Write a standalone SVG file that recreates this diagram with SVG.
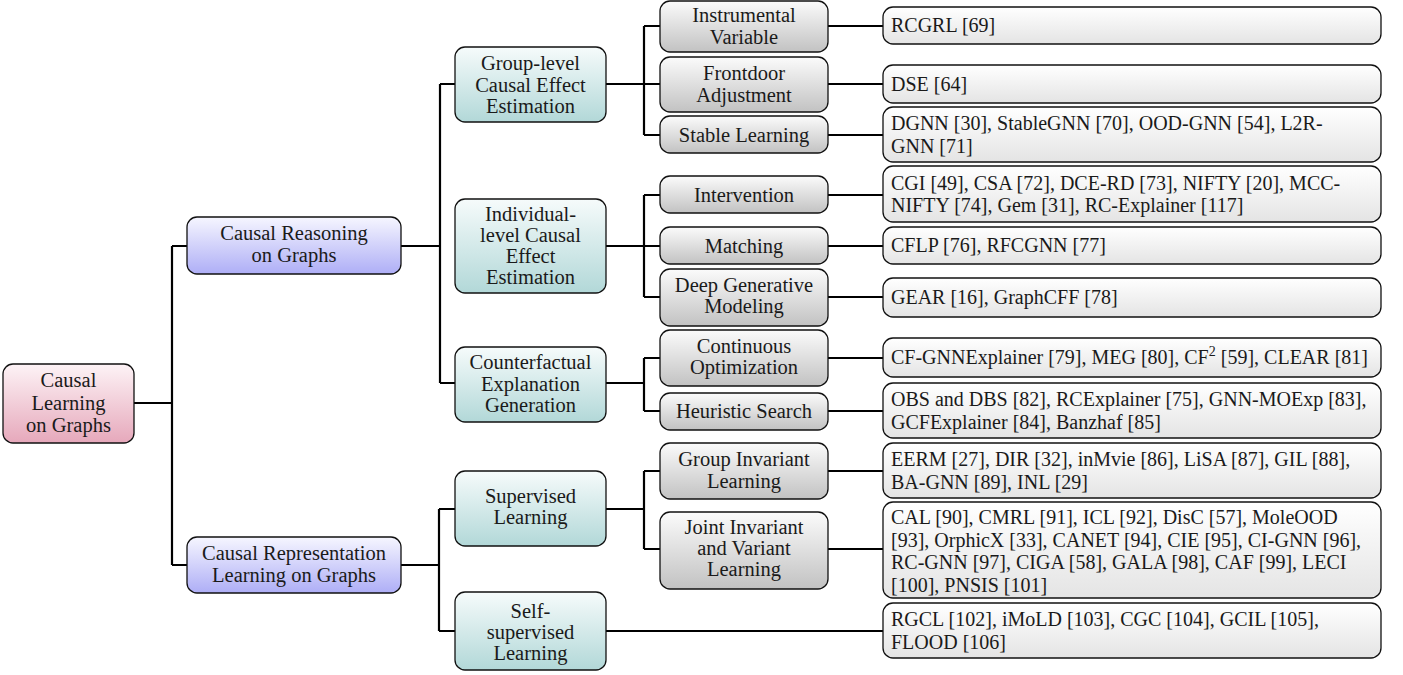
<svg xmlns="http://www.w3.org/2000/svg" width="1403" height="675" viewBox="0 0 1403 675">
<style>
  rect { stroke: #111; stroke-width: 1.3; }
  .root rect { fill: url(#gPink); }
  .l1 rect { fill: url(#gBlue); }
  .l2 rect { fill: url(#gTeal); }
  .l3 rect { fill: url(#gGray); }
  .leaf rect { fill: url(#gLeaf); }
  text { font-family: "Liberation Serif", "Times New Roman", serif; font-size: 20.5px; fill: #1a1a1a; }
  .root text, .l1 text, .l2 text, .l3 text { text-anchor: middle; }
  .leaf text { font-size: 20px; }
  #connectors path { fill: none; stroke: #000; stroke-width: 2.2; }
</style>
<defs>
  <linearGradient id="gPink" x1="0" y1="0" x2="0" y2="1"><stop offset="0" stop-color="#fdf3f6"/><stop offset="1" stop-color="#e6a8bb"/></linearGradient>
  <linearGradient id="gBlue" x1="0" y1="0" x2="0" y2="1"><stop offset="0" stop-color="#f6f6ff"/><stop offset="1" stop-color="#aeaef6"/></linearGradient>
  <linearGradient id="gTeal" x1="0" y1="0" x2="0" y2="1"><stop offset="0" stop-color="#f6fbfb"/><stop offset="1" stop-color="#b2d8d8"/></linearGradient>
  <linearGradient id="gGray" x1="0" y1="0" x2="0" y2="1"><stop offset="0" stop-color="#fbfbfb"/><stop offset="1" stop-color="#c2c2c2"/></linearGradient>
  <linearGradient id="gLeaf" x1="0" y1="0" x2="0" y2="1"><stop offset="0" stop-color="#ffffff"/><stop offset="1" stop-color="#e4e4e4"/></linearGradient>
</defs>

<g id="connectors">
  <!-- root to level 1 -->
  <path d="M134 403 H172 M172 246 V565 M172 246 H187 M172 565 H187"/>
  <!-- Causal Reasoning to level 2 -->
  <path d="M401 246 H440 M440 84 V383 M440 84 H455 M440 383 H455"/>
  <!-- Causal Representation to level 2 -->
  <path d="M401 565 H439 M439 509 V631 M439 509 H455 M439 631 H455"/>
  <!-- Group-level -->
  <path d="M606 84 H644 M644 26 V135 M644 26 H660 M644 84 H660 M644 135 H660"/>
  <!-- Individual-level -->
  <path d="M606 246 H644 M644 195 V297 M644 195 H660 M644 297 H660 M644 246 H660"/>
  <!-- Counterfactual -->
  <path d="M606 383 H644 M644 358 V411 M644 358 H660 M644 411 H660"/>
  <!-- Supervised -->
  <path d="M606 509 H644 M644 471 V549 M644 471 H660 M644 549 H660"/>
  <!-- Self-supervised to leaf -->
  <path d="M606 631 H883"/>
  <!-- level 3 to leaves -->
  <path d="M828 26 H883 M828 84 H883 M828 135 H883 M828 195 H883 M828 246 H883 M828 297 H883 M828 358 H883 M828 411 H883 M828 471 H883 M828 549 H883"/>
</g>

<g id="root" class="root">
  <rect x="3" y="364" width="131" height="79" rx="10"/>
  <text x="68.5" y="387">Causal</text>
  <text x="68.5" y="409.5">Learning</text>
  <text x="68.5" y="432">on Graphs</text>
</g>

<g id="causal-reasoning" class="l1">
  <rect x="187" y="217" width="214" height="57" rx="10"/>
  <text x="294" y="240">Causal Reasoning</text>
  <text x="294" y="262">on Graphs</text>
</g>
<g id="causal-representation" class="l1">
  <rect x="187" y="537" width="214" height="56" rx="10"/>
  <text x="294" y="560">Causal Representation</text>
  <text x="294" y="582">Learning on Graphs</text>
</g>

<g id="group-level" class="l2">
  <rect x="455" y="47" width="151" height="75" rx="10"/>
  <text x="530.5" y="70">Group-level</text>
  <text x="530.5" y="91.5">Causal Effect</text>
  <text x="530.5" y="113">Estimation</text>
</g>
<g id="individual-level" class="l2">
  <rect x="455" y="199" width="151" height="94" rx="10"/>
  <text x="530.5" y="221">Individual-</text>
  <text x="530.5" y="242">level Causal</text>
  <text x="530.5" y="263">Effect</text>
  <text x="530.5" y="284">Estimation</text>
</g>
<g id="counterfactual" class="l2">
  <rect x="455" y="347" width="151" height="75" rx="10"/>
  <text x="530.5" y="369">Counterfactual</text>
  <text x="530.5" y="390.5">Explanation</text>
  <text x="530.5" y="412">Generation</text>
</g>
<g id="supervised" class="l2">
  <rect x="455" y="471" width="151" height="75" rx="10"/>
  <text x="530.5" y="503">Supervised</text>
  <text x="530.5" y="524">Learning</text>
</g>
<g id="self-supervised" class="l2">
  <rect x="455" y="592" width="151" height="78" rx="10"/>
  <text x="530.5" y="618">Self-</text>
  <text x="530.5" y="639">supervised</text>
  <text x="530.5" y="660">Learning</text>
</g>

<g id="instrumental" class="l3">
  <rect x="660" y="1" width="168" height="51" rx="10"/>
  <text x="744" y="22">Instrumental</text>
  <text x="744" y="44">Variable</text>
</g>
<g id="frontdoor" class="l3">
  <rect x="660" y="57" width="168" height="55" rx="10"/>
  <text x="744" y="80">Frontdoor</text>
  <text x="744" y="102">Adjustment</text>
</g>
<g id="stable" class="l3">
  <rect x="660" y="116" width="168" height="37" rx="10"/>
  <text x="744" y="141.5">Stable Learning</text>
</g>
<g id="intervention" class="l3">
  <rect x="660" y="176" width="168" height="37" rx="10"/>
  <text x="744" y="201.5">Intervention</text>
</g>
<g id="matching" class="l3">
  <rect x="660" y="227" width="168" height="37" rx="10"/>
  <text x="744" y="252.5">Matching</text>
</g>
<g id="deep-generative" class="l3">
  <rect x="660" y="269" width="168" height="57" rx="10"/>
  <text x="744" y="292">Deep Generative</text>
  <text x="744" y="313">Modeling</text>
</g>
<g id="continuous" class="l3">
  <rect x="660" y="330" width="168" height="56" rx="10"/>
  <text x="744" y="353">Continuous</text>
  <text x="744" y="374">Optimization</text>
</g>
<g id="heuristic" class="l3">
  <rect x="660" y="393" width="168" height="37" rx="10"/>
  <text x="744" y="418">Heuristic Search</text>
</g>
<g id="group-invariant" class="l3">
  <rect x="660" y="443" width="168" height="56" rx="10"/>
  <text x="744" y="466">Group Invariant</text>
  <text x="744" y="488">Learning</text>
</g>
<g id="joint-invariant" class="l3">
  <rect x="660" y="512" width="168" height="77" rx="10"/>
  <text x="744" y="534">Joint Invariant</text>
  <text x="744" y="555">and Variant</text>
  <text x="744" y="576">Learning</text>
</g>

<g id="leaf-rcgrl" class="leaf">
  <rect x="883" y="7" width="498" height="37" rx="10"/>
  <text x="891" y="32">RCGRL [69]</text>
</g>
<g id="leaf-dse" class="leaf">
  <rect x="883" y="65" width="498" height="38" rx="10"/>
  <text x="891" y="90.5">DSE [64]</text>
</g>
<g id="leaf-dgnn" class="leaf">
  <rect x="883" y="107" width="498" height="55" rx="10"/>
  <text x="891" y="130">DGNN [30], StableGNN [70], OOD-GNN [54], L2R-</text>
  <text x="891" y="152.5">GNN [71]</text>
</g>
<g id="leaf-cgi" class="leaf">
  <rect x="883" y="166" width="498" height="56" rx="10"/>
  <text x="891" y="189.5">CGI [49], CSA [72], DCE-RD [73], NIFTY [20], MCC-</text>
  <text x="891" y="212">NIFTY [74], Gem [31], RC-Explainer [117]</text>
</g>
<g id="leaf-cflp" class="leaf">
  <rect x="883" y="227" width="498" height="37" rx="10"/>
  <text x="891" y="252">CFLP [76], RFCGNN [77]</text>
</g>
<g id="leaf-gear" class="leaf">
  <rect x="883" y="278" width="498" height="39" rx="10"/>
  <text x="891" y="304">GEAR [16], GraphCFF [78]</text>
</g>
<g id="leaf-cfgnn" class="leaf">
  <rect x="883" y="338" width="498" height="39" rx="10"/>
  <text x="891" y="364">CF-GNNExplainer [79], MEG [80], CF<tspan font-size="14" dy="-8">2</tspan><tspan dy="8"> [59], CLEAR [81]</tspan></text>
</g>
<g id="leaf-obs" class="leaf">
  <rect x="883" y="383" width="498" height="55" rx="10"/>
  <text x="891" y="406">OBS and DBS [82], RCExplainer [75], GNN-MOExp [83],</text>
  <text x="891" y="428.5">GCFExplainer [84], Banzhaf [85]</text>
</g>
<g id="leaf-eerm" class="leaf">
  <rect x="883" y="443" width="498" height="55" rx="10"/>
  <text x="891" y="466">EERM [27], DIR [32], inMvie [86], LiSA [87], GIL [88],</text>
  <text x="891" y="488.5">BA-GNN [89], INL [29]</text>
</g>
<g id="leaf-cal" class="leaf">
  <rect x="883" y="502" width="498" height="96" rx="10"/>
  <text x="891" y="524">CAL [90], CMRL [91], ICL [92], DisC [57], MoleOOD</text>
  <text x="891" y="546.5">[93], OrphicX [33], CANET [94], CIE [95], CI-GNN [96],</text>
  <text x="891" y="569">RC-GNN [97], CIGA [58], GALA [98], CAF [99], LECI</text>
  <text x="891" y="591.5">[100], PNSIS [101]</text>
</g>
<g id="leaf-rgcl" class="leaf">
  <rect x="883" y="603" width="498" height="55" rx="10"/>
  <text x="891" y="626">RGCL [102], iMoLD [103], CGC [104], GCIL [105],</text>
  <text x="891" y="648.5">FLOOD [106]</text>
</g>
</svg>
